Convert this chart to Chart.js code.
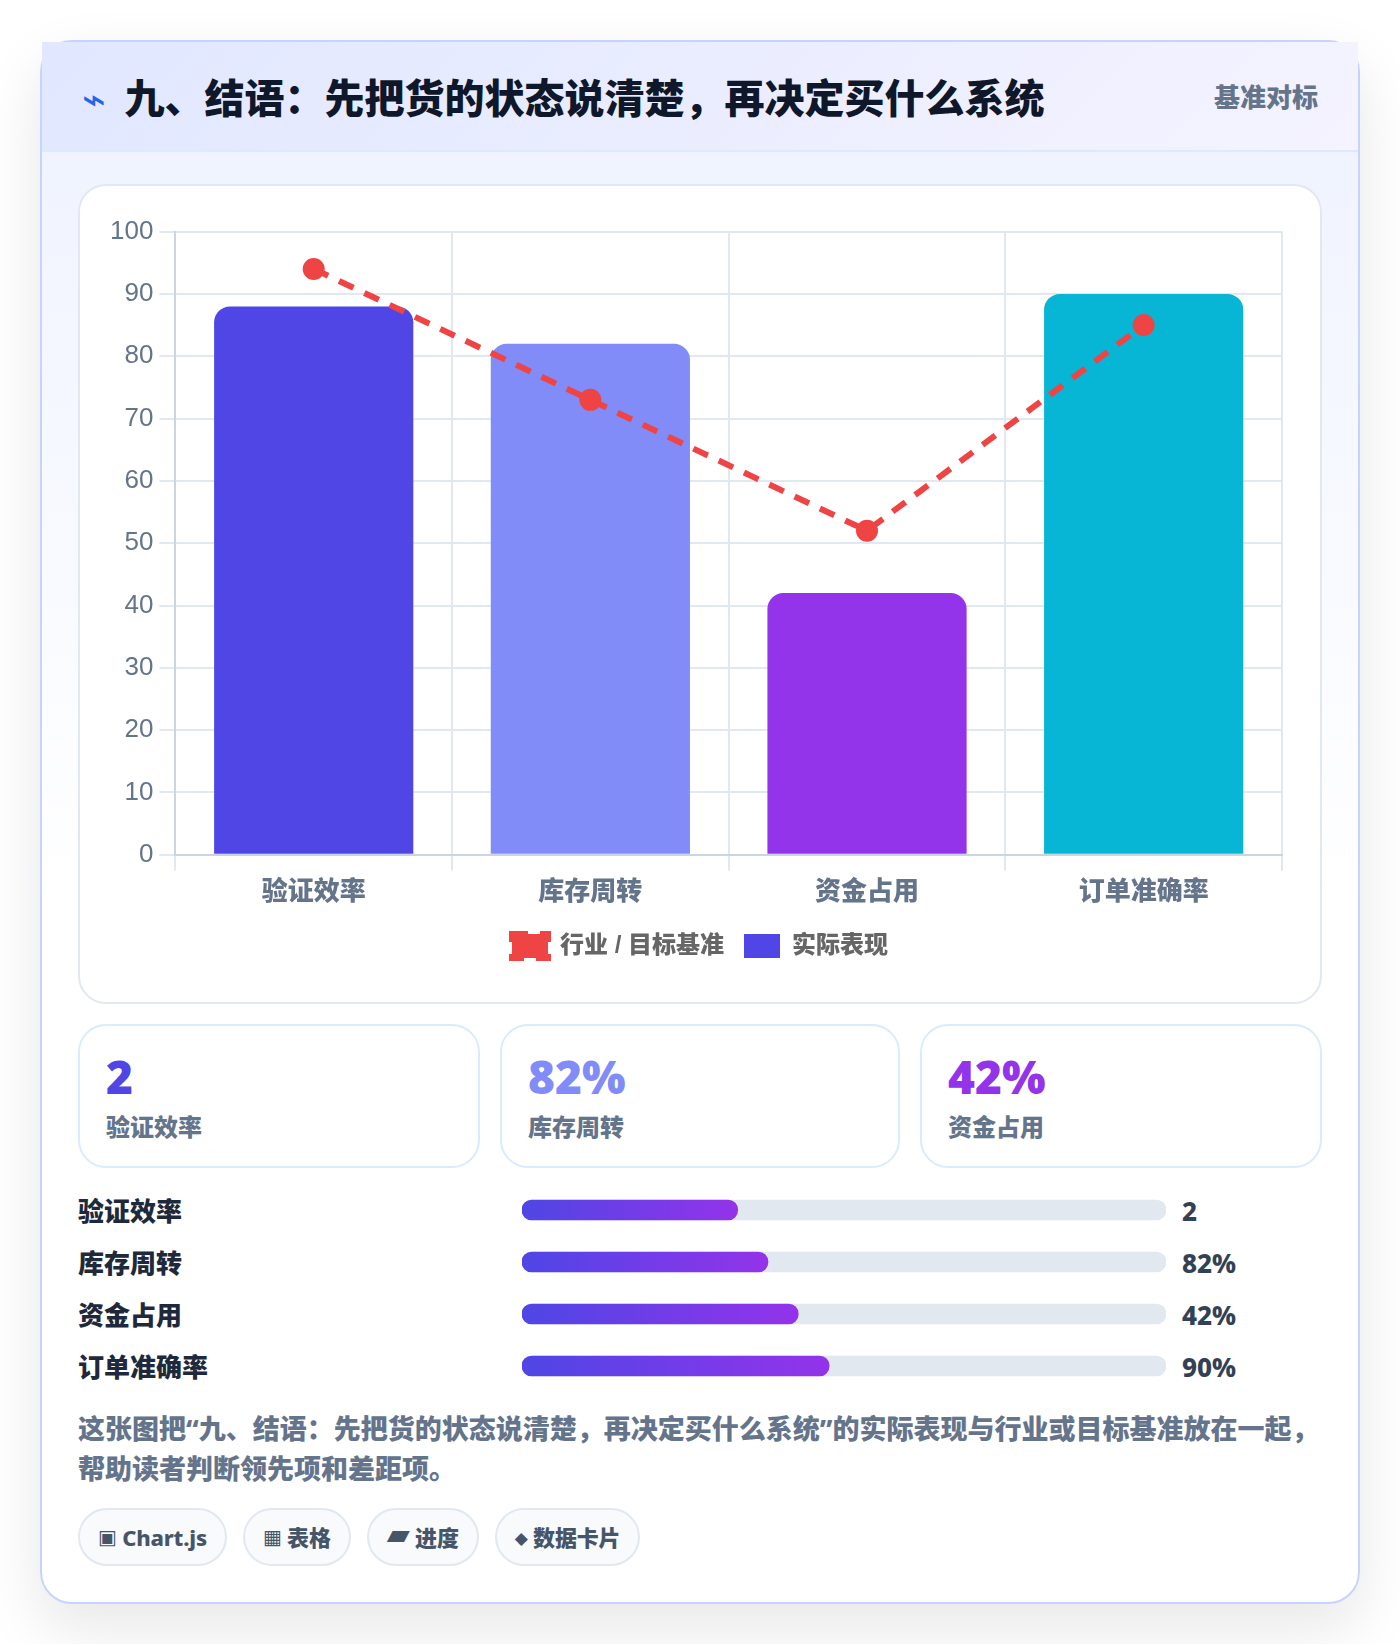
<!DOCTYPE html>
<html lang="zh-CN"><head><meta charset="utf-8">
<script src="https://cdn.jsdelivr.net/npm/chart.js@4"></script>
<style>
*{box-sizing:border-box;margin:0;padding:0}
html,body{width:1400px;height:1646px;background:#fff;overflow:hidden}
body{font-family:"Noto Sans","Noto Sans CJK SC",sans-serif;font-weight:800}
#clip{position:absolute;left:0;top:0;width:1400px;height:1644px;overflow:hidden}
#card{position:absolute;left:40px;top:40px;width:1320px;height:1564px;border:2px solid #c7d2fe;border-radius:32px;background:linear-gradient(180deg,#eef2ff 0%,#ffffff 55%);box-shadow:0 24px 60px rgba(15,23,42,.10)}
#head{position:absolute;left:0;top:0;width:1316px;height:110px;border-bottom:2px solid #dbeafe;background:linear-gradient(135deg,#e0e7ff,#f5f3ff);display:flex;align-items:center;justify-content:space-between;padding:0 40px}
#head h1{font-size:40px;font-weight:900;color:#0f172a;line-height:1.2;margin-top:5px}
#head h1 i{font-style:normal;color:#2563eb;font-family:"DejaVu Sans";font-weight:400;margin-right:8px}
#tag{font-size:26px;color:#64748b}
#panel{position:absolute;left:36px;top:142px;width:1244px;height:820px;background:#fff;border:2px solid #e2e8f0;border-radius:28px}
#main{position:absolute;left:22px;top:24px}
#stats{position:absolute;left:36px;top:982px;width:1244px;display:grid;grid-template-columns:402px 400px 402px;gap:20px}
.stat{height:144px;border:2px solid #dbeafe;border-radius:28px;background:rgba(255,255,255,.72);padding:20px 26px}
.stat b{display:block;font-size:46px;font-weight:900;line-height:60px}
.stat em{display:block;font-style:normal;font-size:24px;color:#64748b;line-height:36px;margin-top:3px}
#rows{position:absolute;left:36px;top:1142px;width:1244px;height:208px}
.rl{position:absolute;left:0;font-size:26px;color:#1e293b;line-height:52px;margin-top:1px}
.rv{position:absolute;left:1104px;font-size:26px;color:#334155;line-height:52px;margin-top:1px}
#prog{position:absolute;left:444px;top:0}
#note{position:absolute;left:36px;top:1367px;width:1244px;font-size:27px;line-height:40px;color:#64748b}
#pills{position:absolute;left:36px;top:1466px;display:flex;gap:16px}
.pill{height:58px;border:2px solid #e2e8f0;border-radius:29px;background:#f8fafc;padding:0 18px;font-size:22px;letter-spacing:-.2px;line-height:54px;color:#475569;white-space:nowrap}
.pill i{font-style:normal;font-family:"DejaVu Sans";font-weight:700;line-height:0;position:relative;top:-2px}
</style></head><body>
<div id="clip"><div id="card">
 <div id="head"><h1><i id="ic"></i> <span id="ttl"></span></h1><span id="tag"></span></div>
 <div id="panel"><div id="main"><canvas id="c1" width="1215" height="758"></canvas></div></div>
 <div id="stats"></div>
 <div id="rows"><div id="prog"><canvas id="c2" width="644" height="208"></canvas></div></div>
 <div id="note"></div>
 <div id="pills"></div>
</div></div>
<script>
const titleText="九、结语：先把货的状态说清楚，再决定买什么系统";
const tagText="基准对标";
const categories=["验证效率","库存周转","资金占用","订单准确率"];
const actualValues=[88,82,42,90];
const benchmarkValues=[94,73,52,85];
const barColors=["#4f46e5","#818cf8","#9333ea","#06b6d4"];
const yTicks=[0,10,20,30,40,50,60,70,80,90,100];
const statValues=["2","82%","42%"];
const progressValues=[33.5,38.2,42.9,47.7];
const progressLabels=["2","82%","42%","90%"];
const noteText="这张图把“九、结语：先把货的状态说清楚，再决定买什么系统”的实际表现与行业或目标基准放在一起，帮助读者判断领先项和差距项。";
const pillIcons=["▣","▦","▰","◆"];
const pillTexts=["Chart.js","表格","进度","数据卡片"];
const iconSizes=[20,20,30,17];
const canvasFont="'Liberation Sans','Noto Sans CJK SC',sans-serif";

document.getElementById('ic').textContent="⌁";
document.getElementById('ttl').textContent=titleText;
document.getElementById('tag').textContent=tagText;
document.getElementById('note').textContent=noteText;
document.getElementById('stats').innerHTML=statValues.map((v,i)=>`<div class="stat"><b style="color:${barColors[i]}">${v}</b><em>${categories[i]}</em></div>`).join('');
document.getElementById('pills').innerHTML=pillTexts.map((t,i)=>`<div class="pill"><i style="font-size:${iconSizes[i]}px">${pillIcons[i]}</i> ${t}</div>`).join('');
const rows=document.getElementById('rows');
categories.forEach((c,i)=>{
 rows.insertAdjacentHTML('beforeend',`<div class="rl" style="top:${i*52}px">${c}</div><div class="rv" style="top:${i*52}px">${progressLabels[i]}</div>`);
});

new Chart(document.getElementById('c1'),{
 data:{labels:categories,datasets:[
  {type:'line',label:'行业 / 目标基准',data:benchmarkValues,borderColor:'#ef4444',backgroundColor:'#ef4444',borderWidth:6,borderDash:[16,12],pointRadius:10,pointBorderWidth:2,tension:0,fill:false},
  {type:'bar',label:'实际表现',data:actualValues,backgroundColor:barColors,borderWidth:0,borderRadius:16}
 ]},
 plugins:[{id:'legendShift',afterLayout(c){c.legend.left+=7;c.legend.right+=7;}}],
 options:{responsive:false,animation:false,
  layout:{padding:{left:2,right:35,top:0,bottom:0}},
  plugins:{tooltip:{enabled:false},
   legend:{position:'bottom',labels:{boxWidth:36,padding:20,font:{family:canvasFont,size:24,weight:800},color:'#666'}}},
  scales:{
   x:{grid:{color:'#e2e8f0',lineWidth:2,tickLength:16},border:{color:'#cbd5e1',width:2},ticks:{padding:6,color:'#64748b',font:{family:canvasFont,size:26,weight:800}}},
   y:{min:0,max:100,afterBuildTicks:a=>{a.ticks=yTicks.map(v=>({value:v}))},grid:{color:'#e2e8f0',lineWidth:2,tickLength:16},border:{color:'#cbd5e1',width:2},ticks:{padding:6,color:'#64748b',font:{family:canvasFont,size:26}}}
  }}
});

new Chart(document.getElementById('c2'),{
 type:'bar',
 data:{labels:categories,datasets:[
  {data:progressValues,grouped:false,barThickness:20,borderRadius:10,borderSkipped:false,backgroundColor:ctx=>{
    const {chart,parsed}=ctx; if(!parsed||!chart.chartArea) return '#4f46e5';
    const xs=chart.scales.x,a=xs.getPixelForValue(0),b=xs.getPixelForValue(parsed.x);
    if(!isFinite(a)||!isFinite(b)) return '#4f46e5';
    const g=chart.ctx.createLinearGradient(a,0,b,0);
    g.addColorStop(0,'#4f46e5');g.addColorStop(1,'#9333ea');return g;}},
  {data:categories.map(()=>100),grouped:false,barThickness:20,borderRadius:10,borderSkipped:false,backgroundColor:'#e2e8f0'}
 ]},
 options:{indexAxis:'y',responsive:false,animation:false,
  plugins:{legend:{display:false},tooltip:{enabled:false}},
  scales:{x:{display:false,min:0,max:100},y:{display:false}}}
});
</script></body></html>
